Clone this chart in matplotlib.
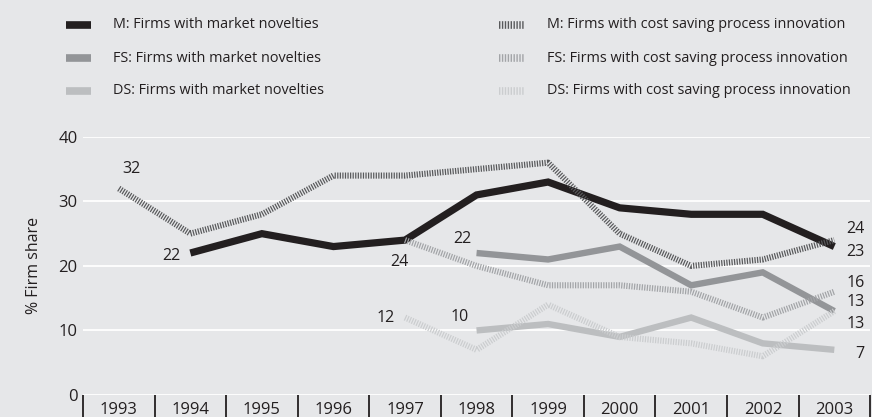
import matplotlib
matplotlib.use("Agg")
import matplotlib.pyplot as plt
from matplotlib.lines import Line2D

plt.rcParams["font.family"] = ["Open Sans", "DejaVu Sans"]

years = list(range(1993, 2004))

# market novelties (solid)
m_years = [1994, 1995, 1996, 1997, 1998, 1999, 2000, 2001, 2002, 2003]
m_novel = [22, 25, 23, 24, 31, 33, 29, 28, 28, 23]
fs_years = [1998, 1999, 2000, 2001, 2002, 2003]
fs_novel = [22, 21, 23, 17, 19, 13]
ds_years = [1998, 1999, 2000, 2001, 2002, 2003]
ds_novel = [10, 11, 9, 12, 8, 7]

# cost saving process innovation (hatched)
mc_years = list(range(1993, 2004))
m_cost = [32, 25, 28, 34, 34, 35, 36, 25, 20, 21, 24]
fsc_years = [1997, 1998, 1999, 2000, 2001, 2002, 2003]
fs_cost = [24, 20, 17, 17, 16, 12, 16]
dsc_years = [1997, 1998, 1999, 2000, 2001, 2002, 2003]
ds_cost = [12, 7, 14, 9, 8, 6, 13]

labels = [
    "M: Firms with market novelties",
    "FS: Firms with market novelties",
    "DS: Firms with market novelties",
    "M: Firms with cost saving process innovation",
    "FS: Firms with cost saving process innovation",
    "DS: Firms with cost saving process innovation",
]

BG = "#e6e7e9"
TXT = "#231f20"
c_m, c_fs, c_ds = "#231f20", "#939598", "#bcbec0"
h_m, h_fs, h_ds = "#58595b", "#a2a4a7", "#cbcdcf"
HATCH = (0.2, 0.22)

fig = plt.figure(figsize=(8.72, 4.17), dpi=100, facecolor=BG)
ax = fig.add_axes([0.0952, 0.0528, 0.9026, 0.619], facecolor=BG)

ax.set_xlim(1992.5, 2003.5)
ax.set_ylim(0, 40)
ax.set_yticks([0, 10, 20, 30, 40])
ax.grid(axis="y", color="white", lw=1.3)
ax.set_axisbelow(True)
for s in ax.spines.values():
    s.set_visible(False)

ax.set_xticks(years)
ax.set_xticks([y - 0.5 for y in years] + [2003.5], minor=True)
ax.tick_params(axis="x", which="major", length=0, pad=5, labelsize=12, colors=TXT)
ax.tick_params(axis="x", which="minor", length=17, width=1.3, color=TXT, direction="out")
ax.tick_params(axis="y", length=0, pad=4, labelsize=12, colors=TXT)
ax.set_ylabel("% Firm share", fontsize=11.5, color=TXT, labelpad=12)

solid = dict(solid_capstyle="butt", solid_joinstyle="miter", clip_on=False)
ax.plot(fs_years, fs_novel, color=c_fs, lw=4.6, zorder=3, **solid)
ax.plot(ds_years, ds_novel, color=c_ds, lw=4.6, zorder=3, **solid)
ax.plot(m_years, m_novel, color=c_m, lw=5.2, zorder=4, **solid)

hatch = dict(dashes=HATCH, dash_capstyle="butt", clip_on=False)
ax.plot(dsc_years, ds_cost, color=h_ds, lw=4.4, zorder=5, **hatch)
ax.plot(fsc_years, fs_cost, color=h_fs, lw=4.4, zorder=5, **hatch)
ax.plot(mc_years, m_cost, color=h_m, lw=4.4, zorder=6, **hatch)

def note(x, y, dx, dy, ha="center"):
    ax.annotate(f"{y}", (x, y), xytext=(dx, dy), textcoords="offset points",
                ha=ha, va="center", fontsize=11.5, color=TXT, annotation_clip=False)

# start labels
note(mc_years[0], m_cost[0], 9, 14)
note(m_years[0], m_novel[0], -7, -2, ha="right")
note(fsc_years[0], fs_cost[0], -4, -16)
note(dsc_years[0], ds_cost[0], -7, 0, ha="right")
note(fs_years[0], fs_novel[0], -10, 10)
note(ds_years[0], ds_novel[0], -12, 10)
# end labels
note(mc_years[-1], m_cost[-1], 22, 8, ha="right")
note(m_years[-1], m_novel[-1], 22, -4, ha="right")
note(fsc_years[-1], fs_cost[-1], 22, 6, ha="right")
note(fs_years[-1], fs_novel[-1], 22, 6.5, ha="right")
note(dsc_years[-1], ds_cost[-1], 22, -9, ha="right")
note(ds_years[-1], ds_novel[-1], 22, -3, ha="right")

# legend drawn by hand in figure pixels
W, H = 872, 417
rows = [25, 58, 91]
for i, (col, y) in enumerate(zip([c_m, c_fs, c_ds], rows)):
    fig.add_artist(Line2D([66 / W, 91 / W], [1 - y / H] * 2, color=col, lw=5.5,
                          solid_capstyle="butt", transform=fig.transFigure))
    fig.text(113 / W, 1 - y / H, labels[i], fontsize=10.4, color=TXT, va="center")
for i, (col, y) in enumerate(zip([h_m, h_fs, h_ds], rows)):
    fig.add_artist(Line2D([499 / W, 524 / W], [1 - y / H] * 2, color=col, lw=5.5,
                          dashes=(0.18, 0.2), dash_capstyle="butt",
                          transform=fig.transFigure))
    fig.text(547 / W, 1 - y / H, labels[i + 3], fontsize=10.4, color=TXT, va="center")

fig.savefig("out.png", dpi=100, facecolor=BG)
